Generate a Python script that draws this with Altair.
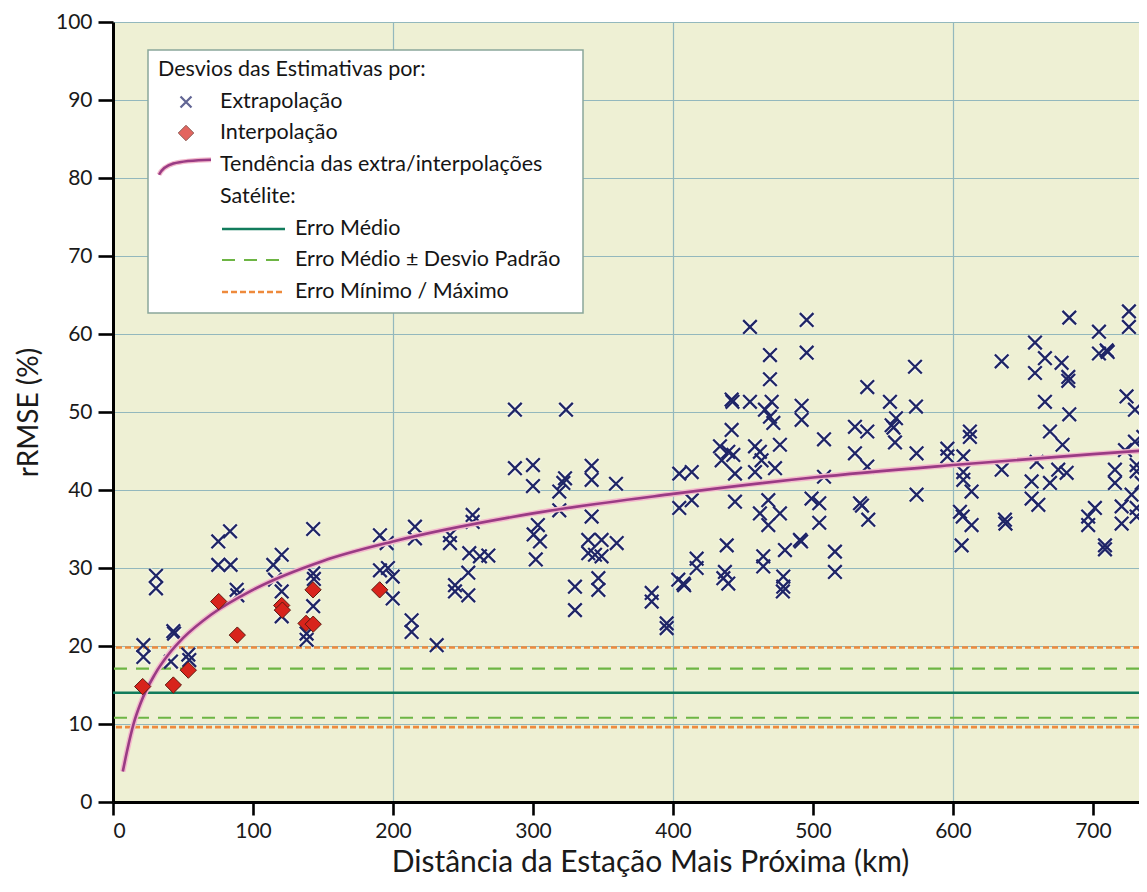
import altair as alt
import pandas as pd

# ---------------- data ----------------
EXTRA_KM = [
    21.7, 21.7, 30.7, 30.7, 43.1, 43.6, 41.4, 53.8, 54.5, 75.2, 83.6, 75.2, 84.0, 88.3, 88.8,
    114.5, 120.5, 115.7, 120.5, 120.5, 143.0, 143.0, 143.5, 143.0, 138.3, 138.3,
    190.7, 195.5, 190.7, 196.4, 199.8, 199.8, 213.3, 213.3, 215.7, 215.7,
    287.1, 287.1, 300.0, 300.0, 240.7, 240.7, 256.9, 256.9, 254.5, 262.1, 268.1, 253.8,
    244.3, 244.3, 253.8, 231.2,
    303.5, 300.5, 305.0, 302.0,
    323.6, 322.9, 321.7, 318.8, 318.8, 341.9, 341.9, 359.3, 404.5, 404.5, 341.9,
    339.5, 349.0, 359.8, 339.5, 344.3, 349.0, 346.7, 346.7, 330.0, 330.0, 384.8, 384.8,
    395.5, 395.5, 403.8,
    455.0, 495.5, 469.3, 495.5, 469.3, 441.9, 442.5, 455.0, 470.5, 465.7, 469.3, 471.7,
    491.9, 491.9, 441.9, 433.6, 439.5, 443.1, 434.8, 444.3, 458.6, 462.1, 463.3, 458.6,
    472.9, 476.4, 413.4, 413.4, 444.3, 468.1, 462.1, 476.4, 468.1,
    499.0, 504.5, 504.5, 490.7, 491.5, 438.4, 480.0, 416.9, 416.9, 464.5, 464.5,
    407.4, 408.0, 437.1, 439.5, 436.0, 478.8, 478.8, 478.5,
    572.9, 538.8, 555.0, 573.6, 559.3, 556.2, 557.5, 558.6, 530.0, 538.8, 507.9, 530.0,
    538.8, 574.0, 596.0, 596.0, 507.9, 574.0, 533.6, 535.0, 539.5, 515.7, 515.7,
    683.1, 725.7, 725.7, 704.3, 704.3, 709.8, 710.5, 658.6, 634.8, 665.7, 658.6, 677.6,
    682.4, 682.4, 665.7, 683.1, 724.0, 730.0, 612.1, 612.1, 669.3, 678.3, 607.4, 607.4,
    607.4, 613.3, 634.8, 659.8, 656.2, 656.2, 661.0, 669.3, 675.2, 681.2, 605.0, 607.0,
    613.3, 606.2, 637.1, 637.5, 696.6, 701.4, 696.6, 708.6, 708.6, 715.7, 715.7, 722.9,
    730.0, 736.0, 731.2, 731.2, 734.8, 727.6, 720.5, 731.2, 731.2, 720.5,
]
EXTRA_RMSE = [
    20.1, 18.6, 29.0, 27.4, 21.9, 21.6, 18.0, 18.9, 18.2, 33.4, 34.7, 30.4, 30.4, 27.2, 26.5,
    30.4, 31.7, 28.5, 27.0, 23.8, 35.0, 29.3, 28.6, 25.1, 21.6, 20.8,
    34.2, 33.2, 29.7, 30.0, 28.9, 26.1, 23.3, 21.8, 35.3, 33.8,
    50.3, 42.8, 43.2, 40.5, 34.2, 33.2, 36.8, 35.9, 31.9, 31.5, 31.6, 29.4,
    27.8, 27.0, 26.5, 20.1,
    35.5, 34.3, 33.4, 31.1,
    50.3, 41.5, 40.9, 39.8, 37.4, 43.1, 41.3, 40.8, 42.1, 37.7, 36.6,
    33.6, 33.6, 33.2, 31.9, 31.7, 31.5, 28.7, 27.2, 27.6, 24.6, 26.8, 25.7,
    22.9, 22.3, 28.5,
    60.9, 61.8, 57.3, 57.6, 54.2, 51.6, 51.3, 51.3, 51.3, 50.3, 49.4, 48.6,
    50.8, 49.0, 47.7, 45.6, 44.9, 44.5, 43.8, 42.1, 45.6, 44.9, 43.8, 42.3,
    42.8, 45.8, 42.3, 38.7, 38.5, 38.7, 37.0, 37.0, 35.5,
    38.9, 38.3, 35.8, 33.6, 33.4, 32.9, 32.3, 31.2, 30.0, 31.5, 30.2,
    28.0, 27.8, 29.5, 28.0, 28.7, 28.9, 27.6, 27.0,
    55.8, 53.2, 51.3, 50.7, 49.2, 48.3, 48.0, 46.1, 48.1, 47.5, 46.5, 44.7,
    43.0, 44.7, 45.3, 44.3, 41.7, 39.4, 38.3, 38.0, 36.2, 32.1, 29.5,
    62.1, 62.9, 60.9, 60.3, 57.5, 57.9, 57.7, 58.9, 56.5, 56.9, 55.0, 56.3,
    54.5, 54.0, 51.3, 49.7, 52.0, 50.3, 47.5, 46.8, 47.5, 45.8, 44.3, 42.3,
    41.3, 39.8, 42.6, 43.6, 41.1, 38.9, 38.1, 40.9, 42.6, 42.2, 37.2, 36.6,
    35.5, 32.9, 36.2, 35.7, 36.6, 37.7, 35.5, 32.9, 32.4, 42.6, 40.9, 45.1,
    46.2, 46.8, 43.2, 42.4, 40.9, 39.4, 37.9, 37.7, 36.6, 35.7,
]
INTER_KM = [21.2, 43.1, 53.8, 75.5, 88.8, 120.5, 121.0, 142.9, 137.9, 143.0, 190.5]
INTER_RMSE = [14.8, 15.0, 16.9, 25.7, 21.4, 25.2, 24.6, 27.2, 22.9, 22.8, 27.2]

TREND_KM = [7, 10, 15, 20, 30, 40, 50, 70, 100, 150, 200, 300, 400, 500, 600, 700, 740]
TREND_RMSE = [3.9, 6.5, 10.2, 12.8, 16.4, 19.0, 21.0, 24.0, 27.2, 30.9, 33.4, 37.0, 39.5, 41.6, 43.2, 44.6, 45.1]

SAT_MEAN = [14.0]
SAT_STD = [17.1, 10.8]
SAT_MINMAX = [19.8, 9.6]

X_TICKS = [0, 100, 200, 300, 400, 500, 600, 700]
Y_TICKS = [0, 5, 10, 15, 20, 25, 30, 35, 40, 45, 50, 55, 60, 65, 70, 75, 80, 85, 90, 95, 100]

LEGEND_TITLE = "Desvios das Estimativas por:"
LEGEND_ITEMS = ["Extrapolação", "Interpolação", "Tendência das extra/interpolações", "Satélite:",
                "Erro Médio", "Erro Médio ± Desvio Padrão", "Erro Mínimo / Máximo"]

X_TITLE = "Distância da Estação Mais Próxima (km)"
Y_TITLE = "rRMSE (%)"

FONT = "Lato"
NAVY = "#1f2567"
RED = "#d8241c"
PURPLE = "#9a3b84"
TEAL = "#127c5c"
GREEN = "#6db544"
ORANGE = "#ee8a3c"

# ---------------- tables ----------------
extra = pd.DataFrame({"km": EXTRA_KM, "rmse": EXTRA_RMSE})
inter = pd.DataFrame({"km": INTER_KM, "rmse": INTER_RMSE})
trend = pd.DataFrame({"km": TREND_KM, "rmse": TREND_RMSE})
mean_df = pd.DataFrame({"rmse": SAT_MEAN})
std_df = pd.DataFrame({"rmse": SAT_STD})
mm_df = pd.DataFrame({"rmse": SAT_MINMAX})
one = pd.DataFrame({"k": [0]})

xscale = alt.Scale(domain=[0, 732.9], nice=False, zero=False)
yscale = alt.Scale(domain=[0, 100], nice=False)

xaxis = alt.Axis(
    values=X_TICKS, title=X_TITLE, grid=True,
    gridOpacity={"condition": {"test": "datum.value % 200 === 0 && datum.value > 0", "value": 1}, "value": 0},
    tickSize=13, labelPadding=5, titlePadding=6, titleFontSize=30,
    titleX=537, titleAlign="center",
)
yaxis = alt.Axis(
    values=Y_TICKS, title=Y_TITLE, grid=True,
    gridOpacity={"condition": {"test": "datum.value % 10 === 0 && datum.value > 0", "value": 1}, "value": 0},
    tickSize={"condition": {"test": "datum.value % 10 === 0", "value": 15}, "value": 10},
    labelExpr="datum.value % 10 === 0 ? datum.label : ''",
    labelPadding=6, titlePadding=12, titleFontSize=28,
)

X = alt.X("km:Q", scale=xscale, axis=xaxis)
Y = alt.Y("rmse:Q", scale=yscale, axis=yaxis)
Xn = alt.X("km:Q", scale=xscale)
Yn = alt.Y("rmse:Q", scale=yscale)

CROSS = "M-1,-1L1,1M-1,1L1,-1"

mean_rule = alt.Chart(mean_df).mark_rule(color=TEAL, strokeWidth=2.6).encode(y=Y)
std_rule = alt.Chart(std_df).mark_rule(color=GREEN, strokeWidth=2.2, strokeDash=[13, 9]).encode(y=Yn)
mm_rule = alt.Chart(mm_df).mark_rule(color=ORANGE, strokeWidth=2.6, strokeDash=[6, 3]).encode(y=Yn)

cross_halo = alt.Chart(extra).mark_point(shape=CROSS, filled=False, size=185, stroke="#ffffff",
                                         strokeWidth=5, opacity=0.45).encode(x=X, y=Yn)
crosses = alt.Chart(extra).mark_point(shape=CROSS, filled=False, size=185, stroke=NAVY,
                                      strokeWidth=2.3, opacity=1).encode(x=Xn, y=Yn)

trend_halo = alt.Chart(trend).mark_line(color="#f3b9cc", strokeWidth=5.5, interpolate="monotone",
                                        clip=True).encode(x=Xn, y=Yn)
trend_line = alt.Chart(trend).mark_line(color=PURPLE, strokeWidth=2.6, interpolate="monotone",
                                        clip=True).encode(x=Xn, y=Yn)

diamonds = alt.Chart(inter).mark_point(shape="diamond", filled=True, size=265, fill=RED,
                                       stroke="#5e1a10", strokeWidth=1, opacity=1).encode(x=Xn, y=Yn)

# ---------------- legend (drawn by hand) ----------------
def txt(label, x, y, size=21.5):
    return alt.Chart(one).mark_text(align="left", baseline="middle", font=FONT, fontSize=size,
                                    color="#151515").encode(x=alt.value(x), y=alt.value(y),
                                                            text=alt.value(label))

legend_box = alt.Chart(one).mark_rect(fill="#ffffff", stroke="#8aa79a", strokeWidth=1.5).encode(
    x=alt.value(35), x2=alt.value(470), y=alt.value(28), y2=alt.value(291))

leg_cross = alt.Chart(one).mark_point(shape=CROSS, filled=False, size=120, stroke=NAVY,
                                      strokeWidth=2.2).encode(x=alt.value(73), y=alt.value(80))
leg_diamond = alt.Chart(one).mark_point(shape="diamond", filled=True, size=240, fill=RED,
                                        stroke="#5e1a10", strokeWidth=1).encode(x=alt.value(73), y=alt.value(111))
CURVE = "M-1,0.3C-0.8,-0.12 -0.4,-0.24 1,-0.28"
leg_curve_halo = alt.Chart(one).mark_point(shape=CURVE, filled=False, size=2700, stroke="#f3b9cc",
                                           strokeWidth=5, opacity=1).encode(x=alt.value(72), y=alt.value(145))
leg_curve = alt.Chart(one).mark_point(shape=CURVE, filled=False, size=2700, stroke=PURPLE,
                                      strokeWidth=2.5, opacity=1).encode(x=alt.value(72), y=alt.value(145))
leg_mean = alt.Chart(one).mark_rule(color=TEAL, strokeWidth=2.6).encode(
    x=alt.value(109), x2=alt.value(172), y=alt.value(207))
leg_std = alt.Chart(one).mark_rule(color=GREEN, strokeWidth=2.2, strokeDash=[13, 9]).encode(
    x=alt.value(109), x2=alt.value(172), y=alt.value(238))
leg_mm = alt.Chart(one).mark_rule(color=ORANGE, strokeWidth=2.6, strokeDash=[6, 3]).encode(
    x=alt.value(109), x2=alt.value(172), y=alt.value(270))

legend = [
    legend_box,
    txt(LEGEND_TITLE, 45, 48),
    leg_cross, txt(LEGEND_ITEMS[0], 107, 80),
    leg_diamond, txt(LEGEND_ITEMS[1], 107, 111),
    leg_curve_halo, leg_curve, txt(LEGEND_ITEMS[2], 107, 143),
    txt(LEGEND_ITEMS[3], 107, 175),
    leg_mean, txt(LEGEND_ITEMS[4], 182, 207),
    leg_std, txt(LEGEND_ITEMS[5], 182, 238),
    leg_mm, txt(LEGEND_ITEMS[6], 182, 270),
]

chart = alt.layer(
    cross_halo, mean_rule, std_rule, mm_rule, crosses, trend_halo, trend_line, diamonds, *legend
).properties(
    width=1026, height=780,
    autosize=alt.AutoSizeParams(type="none"),
    padding={"left": 105, "top": 14, "right": 0, "bottom": 82},
    background="#ffffff",
).configure_view(
    fill="#eef0d4", strokeWidth=0,
).configure_axis(
    domainColor="#000000", domainWidth=3, tickColor="#000000", tickWidth=2.6,
    labelFont=FONT, labelFontSize=21, labelColor="#1a1a1a",
    titleFont=FONT, titleFontWeight="normal", titleColor="#1a1a1a",
    gridColor="#93b8bd", gridWidth=1.2,
)

chart.save("out.html", embed_options={"renderer": "svg", "actions": False})
